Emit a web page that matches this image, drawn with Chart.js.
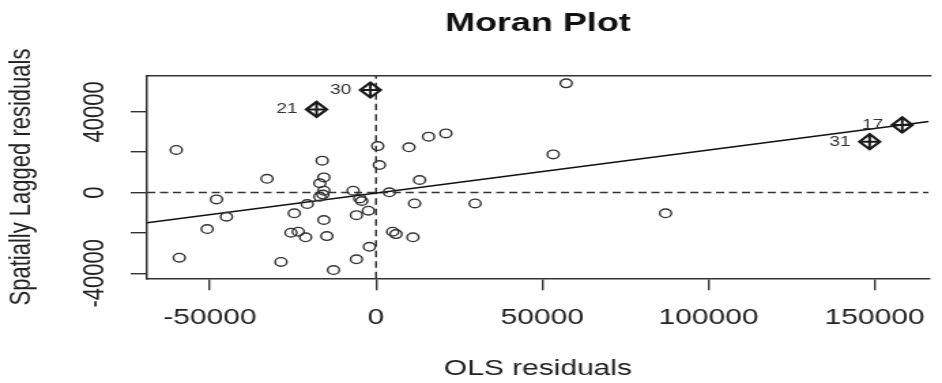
<!DOCTYPE html>
<html>
<head>
<meta charset="utf-8">
<title>Moran Plot</title>
<script src="https://cdn.jsdelivr.net/npm/chart.js@4.4.1/dist/chart.umd.min.js"></script>
<style>
  html, body { margin: 0; padding: 0; background: #fff; }
  #moranChart { display: block; }
</style>
</head>
<body>
<!-- the original R plot was stretched sideways, so draw narrow and widen the canvas -->
<canvas id="moranChart" width="692" height="383" style="width: 942px; height: 383px;"></canvas>
<script>
// OLS residuals (x) and their spatially lagged values (y)
const olsResiduals = [
    -60100, -59200, -48000, -50800, -45000, -32800, -16200, -15700, -16900, -15700,
    -16900, -16000, -20700, -24600, -15700, -25600, -23400, -21200, -14800, -28600,
    -12800, -5900, -2000, -2300, -5900, -6900, -4900, -4300, 500, 1000,
    4000, 5000, 6000, 9900, 15800, 21000, 13100, 11600, 29800, 11100,
    53300, 57200, 87100
];
const laggedResiduals = [
    21100, -32300, -3400, -18100, -12000, 6800, 15800, 7500, 4600, 900,
    -2100, -1000, -5700, -10300, -13600, -19900, -19400, -22200, -21600, -34400,
    -38400, -33100, -26900, -9000, -11200, 900, -2900, -4200, 23000, 13600,
    100, -19400, -20600, 22400, 27700, 29300, 6200, -5400, -5400, -22200,
    18900, 54100, -10300
];

// influential observations (diamonds) and their ids
const influentialX = [-17900, -1700, 148500, 158300];
const influentialY = [41200, 50800, 25200, 33500];
const influentialIds = ['21', '30', '31', '17'];

// regression line end points
const fitX = [-68900, 166300];
const fitY = [-14950, 35250];

// means (dashed lines)
const meanX = 0;
const meanY = 0;

const xRange = [-68900, 166300];
const yRange = [-42500, 57900];
const xTicks = [-50000, 0, 50000, 100000, 150000];
const yTicks = [-40000, -20000, 0, 20000, 40000];
const yTickLabels = [-40000, 0, 40000];

const fontFamily = "'Liberation Sans', Arial, sans-serif";
const ink = '#333';

// top edge of the box (right edge is cut off in the original)
const frameTop = {
    id: 'frameTop',
    afterDatasetsDraw(chart) {
        const {ctx, chartArea} = chart;
        ctx.save();
        ctx.strokeStyle = ink;
        ctx.lineWidth = 1.5;
        ctx.beginPath();
        ctx.moveTo(chartArea.left - 0.75, chartArea.top);
        ctx.lineTo(chartArea.right + 2, chartArea.top);
        ctx.stroke();
        ctx.restore();
    }
};

// ids of the influential points, written left of the marker
const pointIds = {
    id: 'pointIds',
    afterDatasetsDraw(chart) {
        const {ctx, scales} = chart;
        ctx.save();
        ctx.font = '14px ' + fontFamily;
        ctx.fillStyle = '#333';
        ctx.textAlign = 'right';
        ctx.textBaseline = 'middle';
        influentialIds.forEach((id, i) => {
            const px = scales.x.getPixelForValue(influentialX[i]);
            const py = scales.y.getPixelForValue(influentialY[i]);
            ctx.fillText(id, px - 14, py);
        });
        ctx.restore();
    }
};

function toPoints(xs, ys) {
    return xs.map((x, i) => ({x: x, y: ys[i]}));
}

function zeroPadding(scale) {
    scale.paddingLeft = 0;
    scale.paddingRight = 0;
    scale.paddingTop = 0;
    scale.paddingBottom = 0;
}

const ctx = document.getElementById('moranChart').getContext('2d');

new Chart(ctx, {
    type: 'scatter',
    data: {
        datasets: [
            {
                data: toPoints(olsResiduals, laggedResiduals),
                pointStyle: 'circle',
                pointRadius: 4.3,
                pointBorderWidth: 1.4,
                borderColor: ink,
                backgroundColor: 'rgba(0,0,0,0)'
            },
            {
                data: toPoints(influentialX, influentialY),
                pointStyle: 'rectRot',
                pointRadius: 7.5,
                pointBorderWidth: 2.2,
                borderColor: '#1a1a1a',
                backgroundColor: 'rgba(0,0,0,0)'
            },
            {
                data: toPoints(influentialX, influentialY),
                pointStyle: 'cross',
                pointRadius: 7.5,
                pointBorderWidth: 2,
                borderColor: '#1a1a1a'
            },
            {
                data: toPoints(fitX, fitY),
                showLine: true,
                pointRadius: 0,
                borderColor: '#111',
                borderWidth: 1.5
            },
            {
                data: toPoints(xRange, [meanY, meanY]),
                showLine: true,
                pointRadius: 0,
                borderColor: ink,
                borderWidth: 1.5,
                borderDash: [6, 3.5]
            },
            {
                data: toPoints([meanX, meanX], yRange),
                showLine: true,
                pointRadius: 0,
                borderColor: ink,
                borderWidth: 1.5,
                borderDash: [6.5, 4]
            }
        ]
    },
    options: {
        responsive: false,
        animation: false,
        events: [],
        layout: { padding: 0 },
        plugins: {
            legend: { display: false },
            tooltip: { enabled: false },
            title: {
                display: true,
                text: 'Moran Plot',
                fullSize: false,
                color: '#111',
                font: { family: fontFamily, size: 26.4, weight: 'bold' },
                padding: { top: 8.2, bottom: 35.8 }
            }
        },
        scales: {
            x: {
                type: 'linear',
                min: xRange[0],
                max: xRange[1],
                afterBuildTicks: scale => { scale.ticks = xTicks.map(v => ({value: v})); },
                afterFit: scale => { scale.height = 104.7; zeroPadding(scale); },
                grid: { drawOnChartArea: false, drawTicks: true, tickLength: 12, color: ink, lineWidth: 1.4 },
                border: { display: true, color: ink, width: 1.5 },
                ticks: {
                    padding: 14.5,
                    color: '#222',
                    maxRotation: 0,
                    autoSkip: false,
                    font: { family: fontFamily, size: 22 },
                    callback: value => String(value)
                },
                title: {
                    display: true,
                    text: 'OLS residuals',
                    color: '#222',
                    font: { family: fontFamily, size: 22 },
                    padding: { top: 0, bottom: 0.8 }
                }
            },
            y: {
                type: 'linear',
                min: yRange[0],
                max: yRange[1],
                afterBuildTicks: scale => { scale.ticks = yTicks.map(v => ({value: v})); },
                afterFit: scale => { scale.width = 108; zeroPadding(scale); },
                grid: { drawOnChartArea: false, drawTicks: true, tickLength: 12, color: ink, lineWidth: 1.4 },
                border: { display: true, color: ink, width: 1.5 },
                ticks: {
                    padding: -7.75,
                    minRotation: 90,
                    maxRotation: 90,
                    crossAlign: 'center',
                    autoSkip: false,
                    color: '#222',
                    font: { family: fontFamily, size: 22 },
                    callback: value => yTickLabels.includes(value) ? String(value) : ''
                },
                title: {
                    display: true,
                    text: 'Spatially Lagged residuals',
                    color: '#222',
                    font: { family: fontFamily, size: 22 },
                    padding: { top: 2.4, bottom: 0 }
                }
            }
        }
    },
    plugins: [frameTop, pointIds]
});
</script>
</body>
</html>
